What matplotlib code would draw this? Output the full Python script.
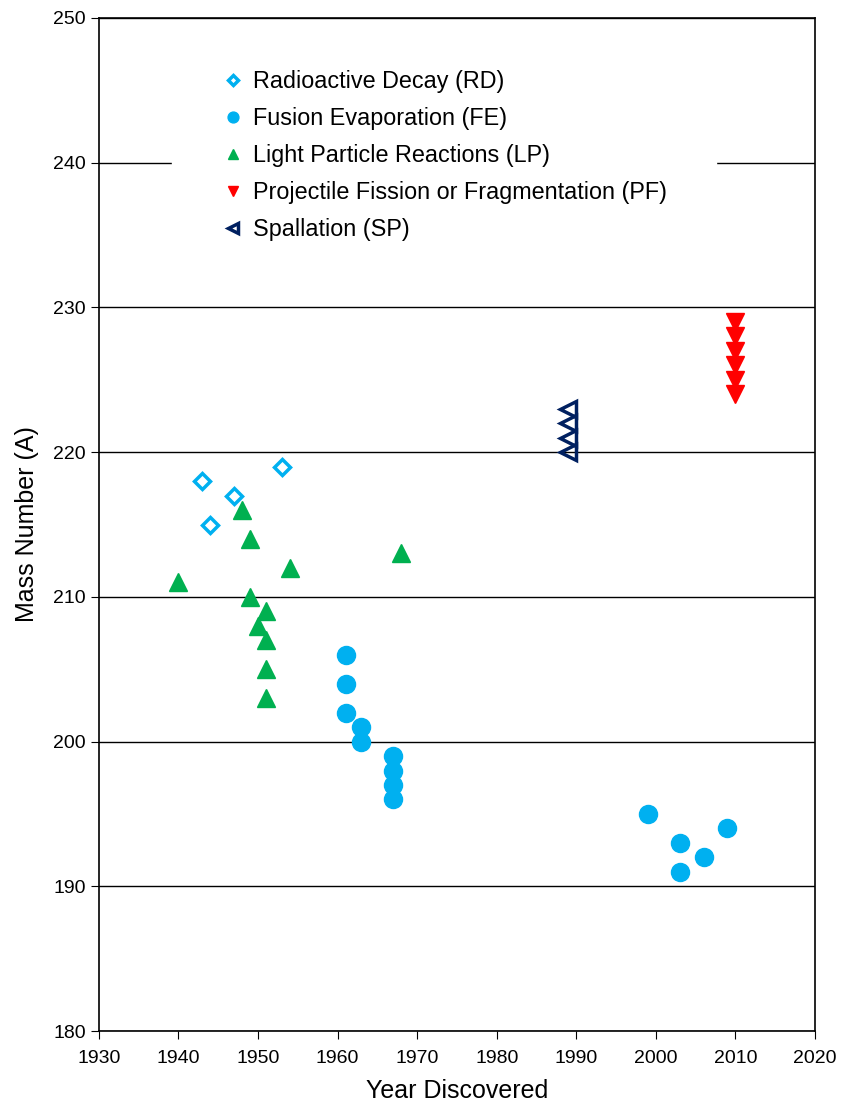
import matplotlib.pyplot as plt

plt.rcParams['font.family'] = ['Liberation Sans', 'DejaVu Sans']

# ---- data: (year, mass number) ----
rd_year = [1943, 1944, 1947, 1953]
rd_mass = [218, 215, 217, 219]

fe_year = [1961, 1961, 1961, 1963, 1963, 1967, 1967, 1967, 1967,
           1999, 2003, 2003, 2006, 2009]
fe_mass = [206, 204, 202, 201, 200, 199, 198, 197, 196,
           195, 193, 191, 192, 194]

lp_year = [1940, 1948, 1949, 1954, 1968, 1949, 1950, 1951, 1951, 1951, 1951]
lp_mass = [211, 216, 214, 212, 213, 210, 208, 209, 207, 205, 203]

pf_year = [2010, 2010, 2010, 2010, 2010, 2010]
pf_mass = [224, 225, 226, 227, 228, 229]

sp_year = [1989, 1989, 1989, 1989]
sp_mass = [220, 221, 222, 223]

fig = plt.figure(figsize=(8.45, 11.09), dpi=100)
ax = fig.add_axes([0.117, 0.0703, 0.8475, 0.9135])

ax.plot(rd_year, rd_mass, ls='none', marker='D', ms=8, mfc='none', mec='#00B0F0',
        mew=2.5, label='Radioactive Decay (RD)', zorder=3)
ax.plot(fe_year, fe_mass, ls='none', marker='o', ms=13, mfc='#00B0F0', mec='#00B0F0',
        label='Fusion Evaporation (FE)', zorder=3)
ax.plot(lp_year, lp_mass, ls='none', marker='^', ms=13, mfc='#00B050', mec='#00B050',
        label='Light Particle Reactions (LP)', zorder=3)
ax.plot(pf_year, pf_mass, ls='none', marker='v', ms=13, mfc='#FF0000', mec='#FF0000',
        label='Projectile Fission or Fragmentation (PF)', zorder=3)
ax.plot(sp_year, sp_mass, ls='none', marker='<', ms=12, mfc='none', mec='#002060',
        mew=2.5, label='Spallation (SP)', zorder=3)

ax.set_xlim(1930, 2020)
ax.set_ylim(180, 250)
ax.set_xticks(range(1930, 2021, 10))
ax.set_yticks(range(180, 251, 10))
ax.yaxis.grid(True, color='black', lw=1)
ax.set_axisbelow(True)
ax.tick_params(axis='both', labelsize=14, direction='out', length=6, color='black')
ax.tick_params(axis='x', pad=8)
for s in ax.spines.values():
    s.set_color('black')
    s.set_linewidth(1.2)

ax.set_xlabel('Year Discovered', fontsize=18, labelpad=8)
ax.set_ylabel('Mass Number (A)', fontsize=18, labelpad=10)

leg = ax.legend(loc='upper left', bbox_to_anchor=(0.102, 0.997), fontsize=16.8,
                frameon=True, fancybox=False, framealpha=1, edgecolor='white',
                borderpad=2.1, labelspacing=0.6, handletextpad=0.37,
                handlelength=1.0, markerscale=0.6, borderaxespad=0)
leg.get_frame().set_facecolor('white')

fig.savefig('out.png', dpi=100)
